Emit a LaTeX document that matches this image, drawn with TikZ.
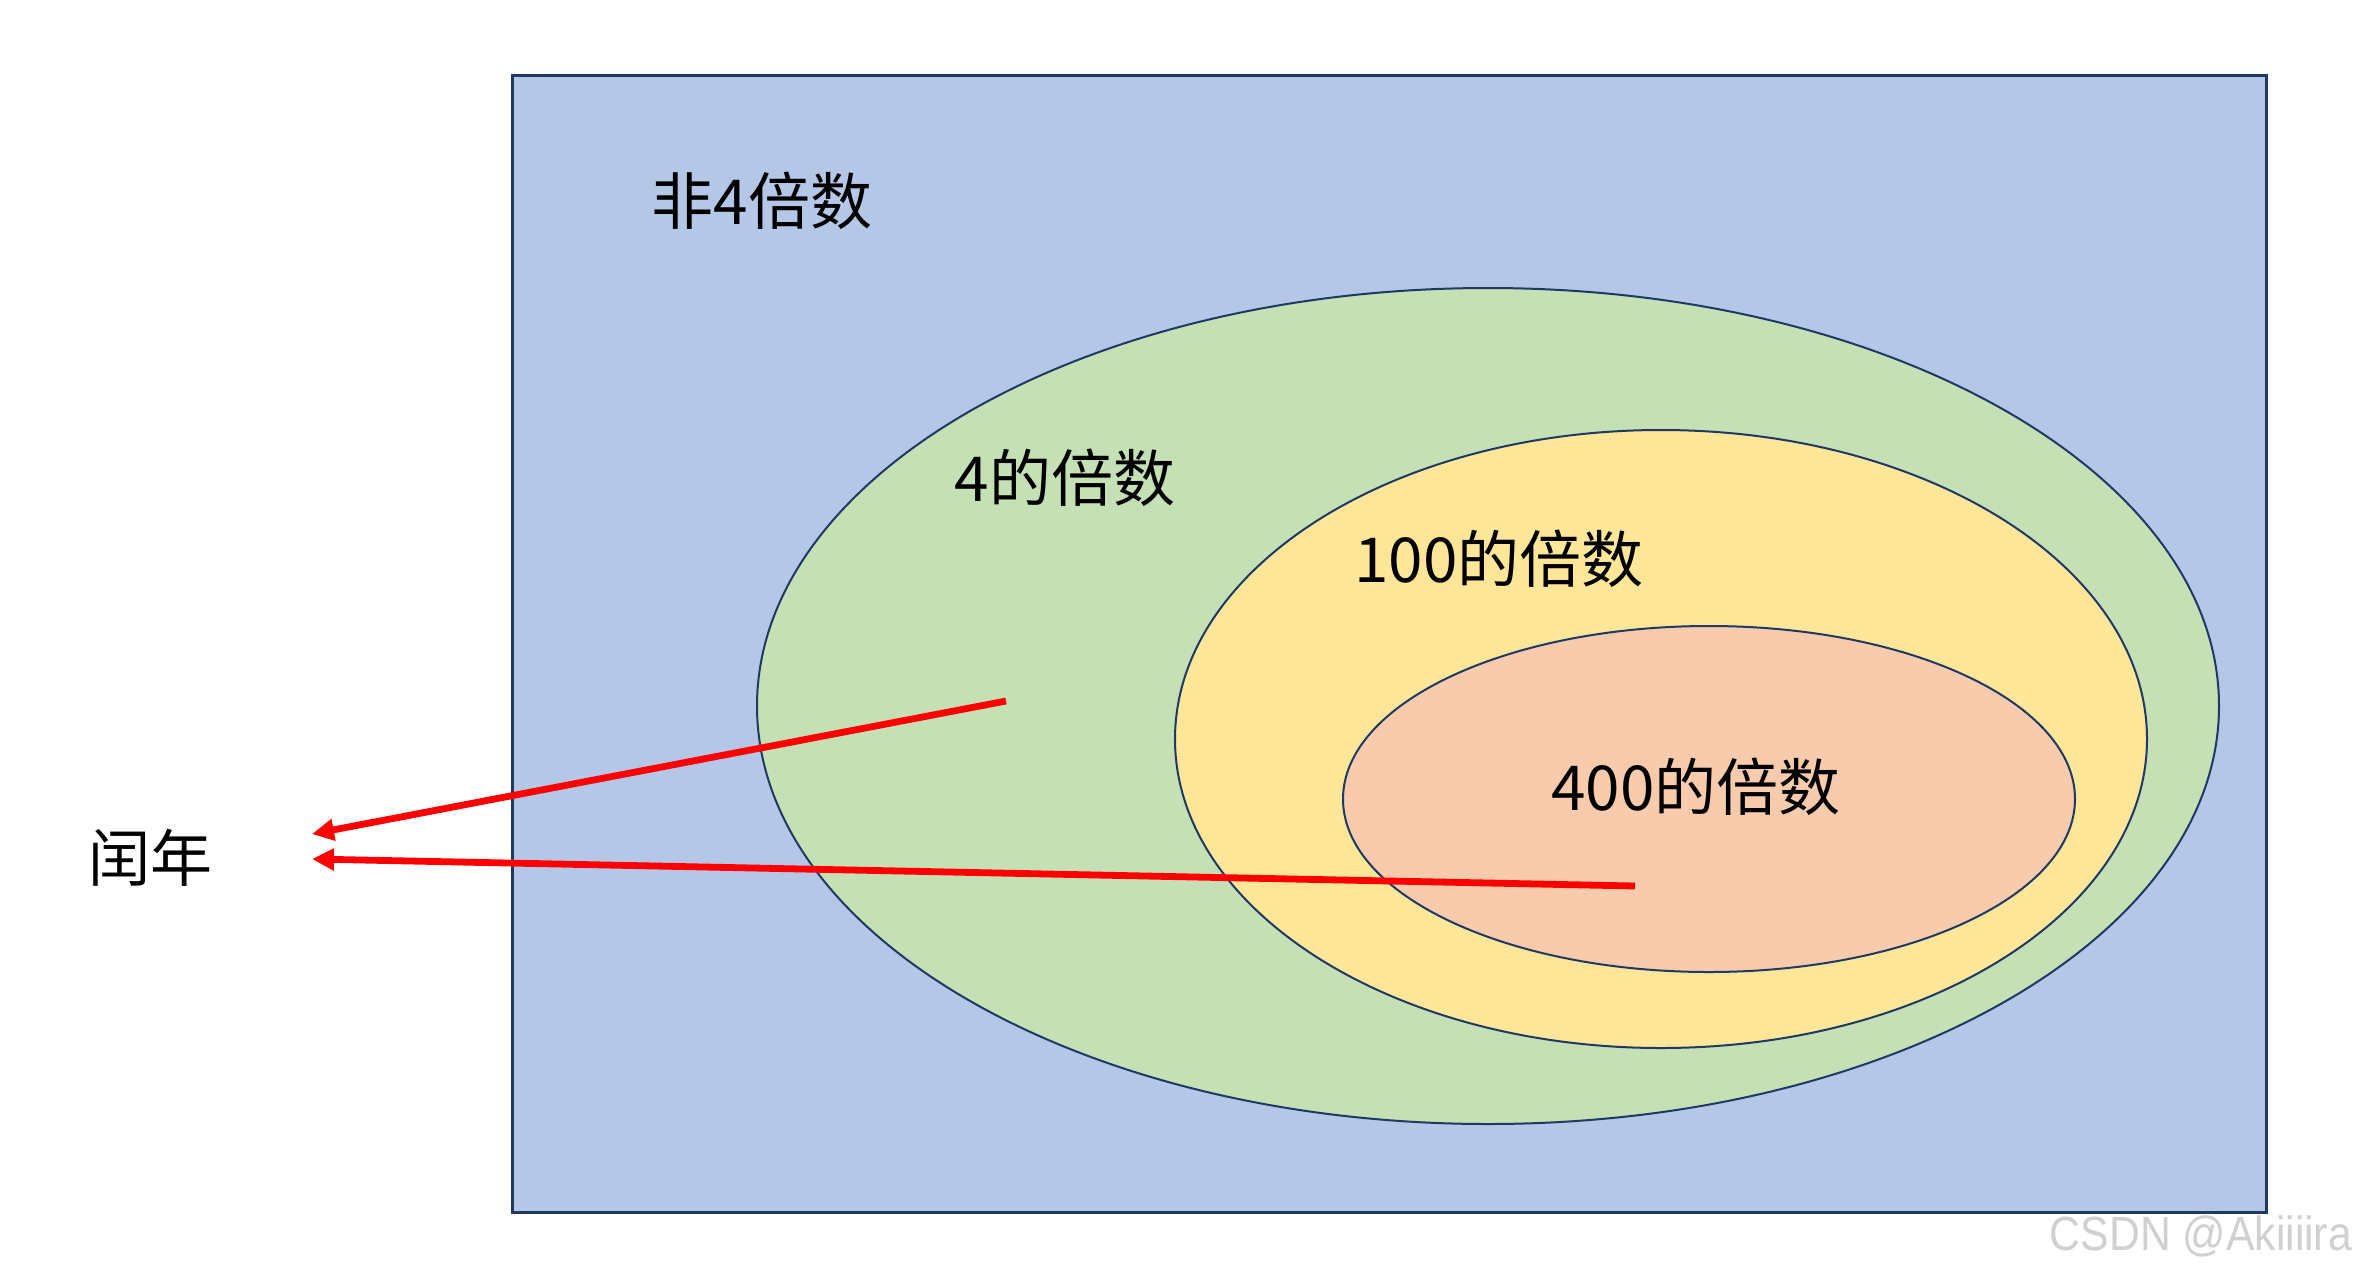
\documentclass[tikz,border=0pt]{standalone}
\usepackage{fontspec}
\setmainfont{Liberation Sans}
\newfontfamily\cjk{Noto Sans CJK SC}
\usetikzlibrary{arrows.meta}
\definecolor{setblue}{HTML}{B4C7E7}
\definecolor{setgreen}{HTML}{C5E0B4}
\definecolor{setyellow}{HTML}{FFE699}
\definecolor{setorange}{HTML}{F8CBAD}
\definecolor{navy}{HTML}{1F3864}
\definecolor{wmgray}{HTML}{D0D0D0}
\tikzset{
  setlabel/.style={font=\cjk\fontsize{31pt}{37pt}\selectfont, inner sep=0pt},
  setline/.style={draw=navy, line width=1pt},
  redarrow/.style={draw=red, line width=3.4pt, -{Triangle[length=11pt,width=10.5pt]}}
}
\begin{document}
\begin{tikzpicture}[x=0.5pt,y=-0.5pt]
\useasboundingbox (0,0) rectangle (2355,1275);
\fill[white] (0,0) rectangle (2355,1275);
\draw[fill=setblue, draw=navy, line width=1.5pt] (512,75) rectangle (2266,1212);
\draw[setline, fill=setgreen] (1488,706) ellipse [x radius=365.5pt, y radius=209pt];
\draw[setline, fill=setyellow] (1661,739) ellipse [x radius=243pt, y radius=154.5pt];
\draw[setline, fill=setorange] (1709,799) ellipse [x radius=183pt, y radius=86.5pt];
\node[setlabel] (non4) at (762,201) {非4倍数};
\node[setlabel] (m4) at (1065,478) {4的倍数};
\node[setlabel] (m100) at (1499,559) {100的倍数};
\node[setlabel] (m400) at (1696,787) {400的倍数};
\node[setlabel] (leap) at (150,858) {闰年};
\coordinate (s1) at (1006,701);
\coordinate (e1) at (312,834);
\coordinate (s2) at (1635,886);
\coordinate (e2) at (312,859);
\draw[redarrow] (s1) -- (e1);
\draw[redarrow] (s2) -- (e2);
\node[text=wmgray, font=\fontsize{24pt}{28pt}\selectfont, xscale=0.89, inner sep=0pt] (wm) at (2201,1236) {CSDN @Akiiiira};
\end{tikzpicture}
\end{document}
